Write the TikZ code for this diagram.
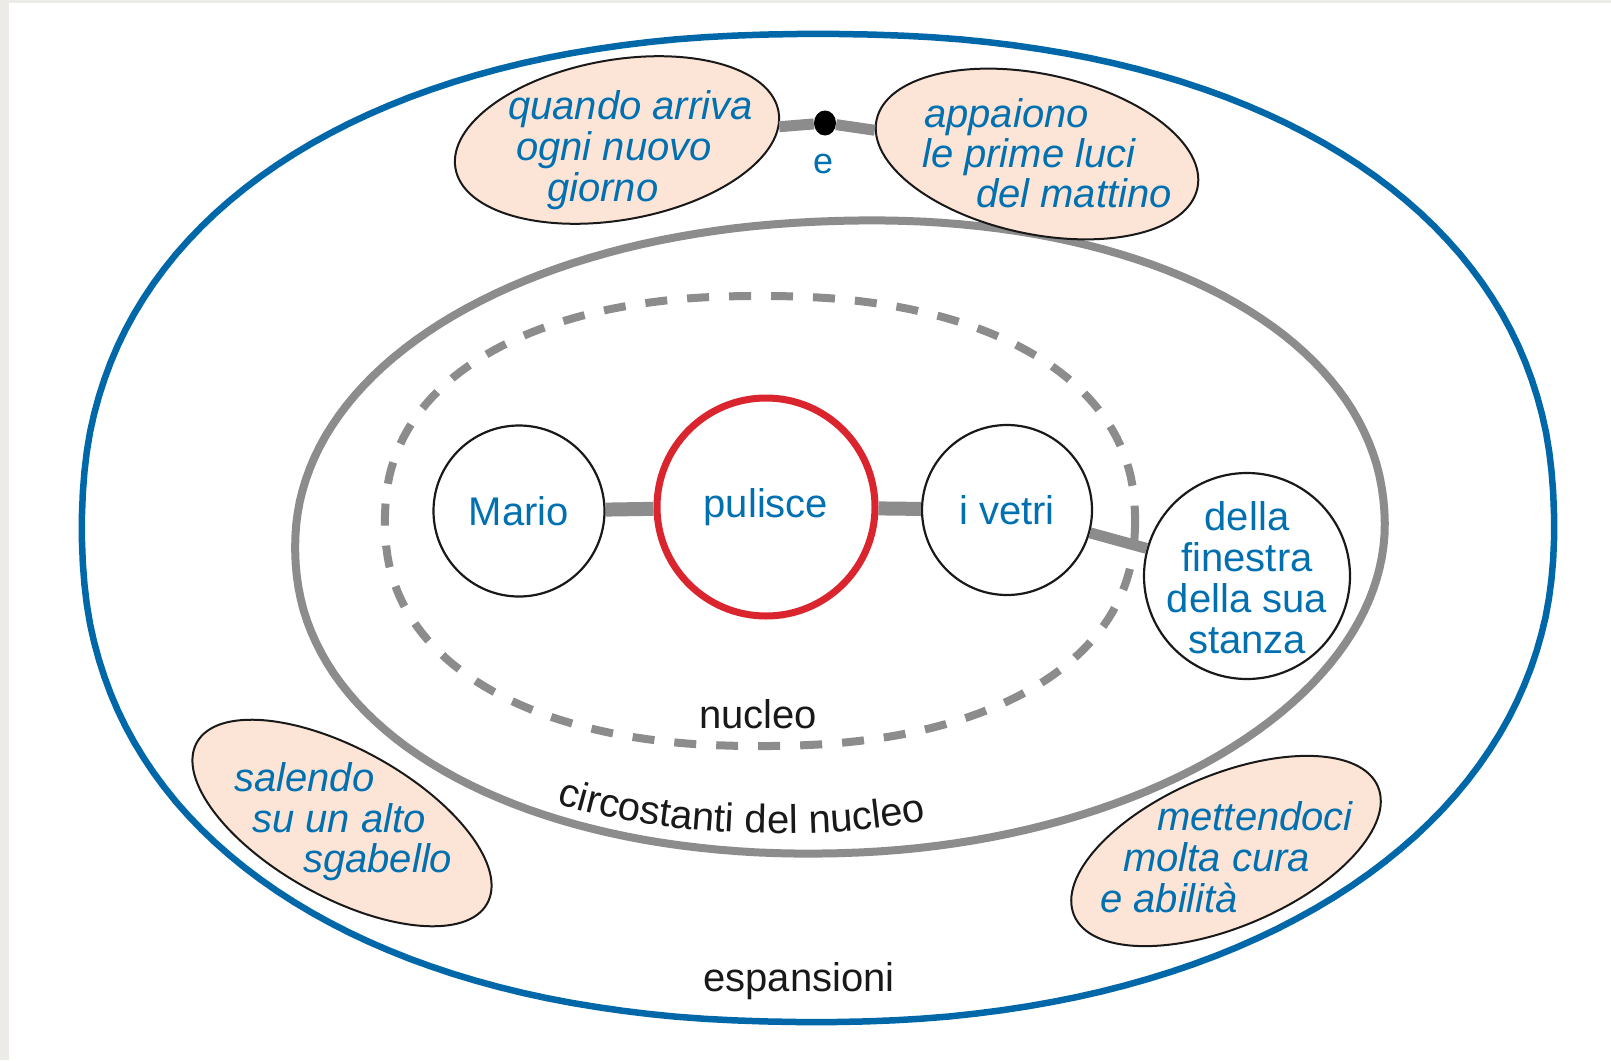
\documentclass[tikz,border=0pt]{standalone}
\usepackage{fontspec}
\setmainfont{Liberation Sans}
\usetikzlibrary{shapes.geometric,decorations.text}
\definecolor{txtblue}{RGB}{0,112,176}
\definecolor{ringblue}{RGB}{0,104,168}
\definecolor{ringgray}{RGB}{140,140,140}
\definecolor{ringred}{RGB}{218,37,46}
\definecolor{peach}{RGB}{252,228,214}
\definecolor{edgegray}{RGB}{237,235,232}
\begin{document}
\begin{tikzpicture}[x=1pt,y=-1pt,
  bigfont/.style={font=\fontsize{40}{41}\selectfont},
  word/.style={bigfont, text=txtblue},
  iword/.style={font=\fontsize{40}{41}\selectfont\itshape, text=txtblue, anchor=base west, inner sep=0pt},
  ringnode/.style={circle, draw=black!90, line width=2.2pt, fill=white, inner sep=0pt, word},
  bubble/.style={ellipse, draw=black!90, line width=2pt, fill=peach, inner sep=0pt},
  linkbar/.style={draw=ringgray, line width=14pt},
  zonelabel/.style={font=\fontsize{40}{41}\selectfont, text=black!90}
]
\fill[edgegray] (0,0) rectangle (1611,1060);
\fill[white] (9,3) rectangle (1611,1060);
\useasboundingbox (0,0) rectangle (1611,1060);

% zones (rounded super-ellipses)
\draw[ringblue, line width=6.5pt]
  plot[domain=1:359, samples=180]
  ({818+736*sign(cos(\x))*pow(abs(cos(\x)),((\x<90) ? 0.93 : 0.889))},
   {528+494*sign(sin(\x))*pow(abs(sin(\x)),((\x<90) ? 0.93 : 0.889))}) -- cycle;
\draw[ringgray, line width=8pt, rotate around={2:(840,537)}]
  plot[domain=1:359, samples=180]
  ({840+545*sign(cos(\x))*pow(abs(cos(\x)),((\x<90) ? 1 : 0.952))},
   {537+316*sign(sin(\x))*pow(abs(sin(\x)),((\x<90) ? 1 : 0.952))}) -- cycle;
\draw[ringgray, line width=8pt, dash pattern=on 22pt off 20pt]
  plot[domain=1:359, samples=180]
  ({760+375*sign(cos(\x))*pow(abs(cos(\x)),0.889)}, {521+225*sign(sin(\x))*pow(abs(sin(\x)),0.889)}) -- cycle;

% core nodes
\node[ringnode, minimum size=171pt] (mario) at (519,511) {Mario};
\node[circle, draw=ringred, line width=7pt, fill=white, minimum size=218pt, inner sep=0pt, word] (pulisce) at (766,507) {pulisce};
\node[ringnode, minimum size=170pt] (vetri) at (1007,510) {i vetri};
\node[ringnode, minimum size=206pt] (finestra) at (1247,576) {};
\node[word, align=center, inner sep=0pt] (finestratext) at (1247,578) {della\\finestra\\della sua\\stanza};

\draw[linkbar] (mario) -- (pulisce);
\draw[linkbar] (pulisce) -- (vetri);
\draw[linkbar, line width=11pt] (vetri) -- (finestra);

% expansions
\node[bubble, minimum width=328pt, minimum height=160pt, rotate=10] (quando) at (617,140) {};
\node[bubble, minimum width=328pt, minimum height=160pt, rotate=-12] (appaiono) at (1037,154) {};
\node[bubble, minimum width=332pt, minimum height=148pt, rotate=-29] (salendo) at (342,823) {};
\node[bubble, minimum width=330pt, minimum height=152pt, rotate=23] (mettendoci) at (1226,851) {};

\node[iword] (q1) at (508,119) {quando arriva};
\node[iword] (q2) at (516,160) {ogni nuovo};
\node[iword] (q3) at (547,201) {giorno};

\node[iword] (a1) at (924,127) {appaiono};
\node[iword] (a2) at (922,167) {le prime luci};
\node[iword] (a3) at (976,207) {del mattino};

\node[iword] (s1) at (234,791) {salendo};
\node[iword] (s2) at (252,832) {su un alto};
\node[iword] (s3) at (303,872) {sgabello};

\node[iword] (m1) at (1157,830) {mettendoci};
\node[iword] (m2) at (1123,871) {molta cura};
\node[iword] (m3) at (1100,912) {e abilità};

% coordination "e"
\node[ellipse, fill=black, minimum width=22pt, minimum height=25pt, inner sep=0pt] (dot) at (825,123) {};
\draw[ringgray, line width=11pt] (quando) -- (dot) -- (appaiono);
\node[font=\fontsize{36}{40}\selectfont, text=txtblue] (e) at (823,164) {e};

% zone labels
\node[zonelabel] (nucleo) at (758,714) {nucleo};
\node[zonelabel] (espansioni) at (799,981) {espansioni};
\path[decorate, decoration={text along path, text align=center,
  text={|\fontsize{40}{41}\selectfont\color{black!90}|circostanti del nucleo}}]
  (548,800) .. controls (650,838) and (830,843) .. (935,818);
\end{tikzpicture}
\end{document}
